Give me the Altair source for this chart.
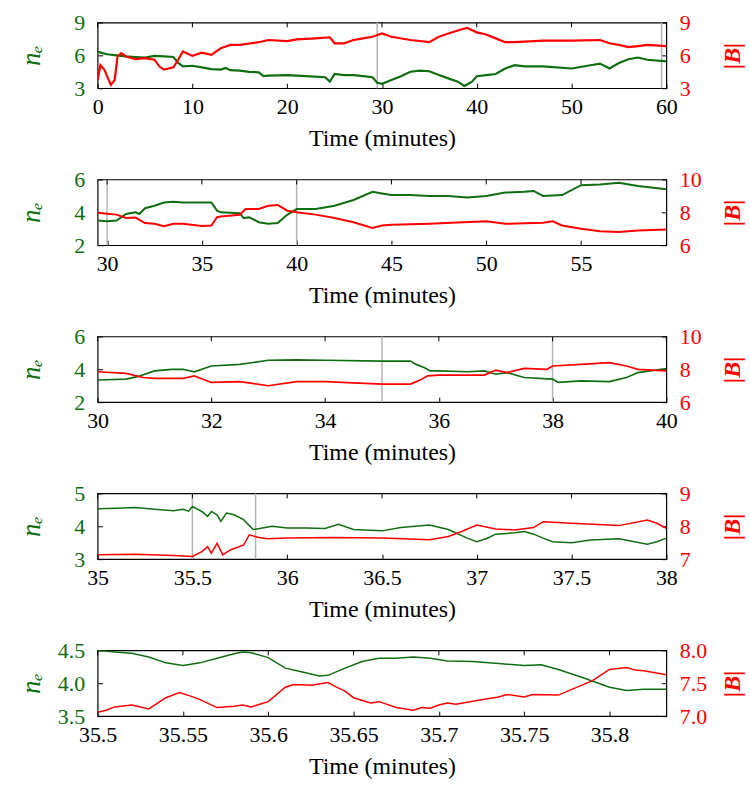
import altair as alt
import pandas as pd

GREEN = "#0f6e0f"
RED = "#ff0000"
GRAY = "#b4b4b4"
FONT = "Liberation Serif"

# ---------------- Panel 1 (0-60 min) ----------------
p1_ne_t = [0, 0.5, 1, 2, 3, 4, 5, 6, 7, 8, 8.5, 9, 10, 11, 12, 13, 13.5, 14, 15, 16, 17, 17.5, 18, 20, 22, 24,
           24.5, 25, 26, 27, 28, 29, 29.5, 30, 31, 32, 33, 34, 35, 36, 37, 38, 38.7, 39.5, 40, 41, 42, 43, 44,
           45, 47, 50, 52, 53, 54, 55, 56, 57, 58, 60]
p1_ne = [6.35, 6.2, 6.1, 6.0, 5.9, 5.85, 5.8, 5.95, 5.9, 5.85, 5.3, 5.0, 5.05, 4.9, 4.75, 4.7, 4.85, 4.65, 4.6, 4.5,
         4.45, 4.1, 4.15, 4.2, 4.1, 4.0, 3.6, 4.3, 4.2, 4.2, 4.1, 4.0, 3.5, 3.4, 3.75, 4.1, 4.5, 4.6, 4.55, 4.2, 3.9,
         3.6, 3.2, 3.6, 4.1, 4.2, 4.3, 4.8, 5.1, 5.0, 5.0, 4.8, 5.1, 5.25, 4.8, 5.3, 5.65, 5.8, 5.6, 5.45]
p1_b_t = [0, 0.3, 0.7, 1, 1.4, 1.8, 2.1, 2.5, 3, 4, 5, 6, 6.5, 7, 8, 8.5, 9, 10, 11, 12, 13, 14, 15, 17, 18, 20, 21,
          23, 24.5, 25, 26, 27, 28, 29, 30, 31, 33, 35, 36, 37, 38.5, 39, 40, 41, 42, 43, 44, 47, 50, 53, 54, 55,
          56, 57, 58, 60]
p1_b = [3.75, 5.1, 4.7, 4.1, 3.3, 3.75, 5.9, 6.2, 5.9, 5.65, 5.75, 5.6, 5.0, 4.7, 4.9, 5.6, 6.35, 5.95, 6.25, 6.05,
        6.65, 6.95, 6.95, 7.2, 7.4, 7.3, 7.45, 7.55, 7.65, 7.1, 7.1, 7.4, 7.55, 7.7, 8.0, 7.7, 7.4, 7.2, 7.7, 8.0,
        8.4, 8.5, 8.1, 7.9, 7.55, 7.2, 7.2, 7.35, 7.35, 7.4, 7.1, 6.95, 6.75, 6.85, 6.95, 6.85]
p1_xticks = [0, 10, 20, 30, 40, 50, 60]
p1_marks = [29.5, 59.5]

# ---------------- Panel 2 (29.5-59.5 min) ----------------
p2_ne_t = [29.5, 30, 30.5, 31, 31.5, 31.7, 32, 32.5, 33, 33.5, 34, 35, 35.5, 35.8, 36, 37, 37.2, 37.5, 38, 38.5, 39,
           39.5, 40, 41, 42, 43, 44, 44.5, 45, 46, 47, 48, 49, 50, 51, 52, 52.5, 53, 54, 55, 56, 57, 58, 59.5]
p2_ne = [3.5, 3.45, 3.5, 3.9, 4.0, 3.9, 4.25, 4.4, 4.6, 4.65, 4.6, 4.6, 4.6, 4.1, 4.0, 3.95, 3.65, 3.7, 3.4, 3.3,
         3.35, 3.85, 4.2, 4.2, 4.4, 4.75, 5.25, 5.15, 5.05, 5.05, 5.0, 5.0, 4.9, 5.0, 5.2, 5.25, 5.3, 5.0, 5.05,
         5.65, 5.7, 5.8, 5.6, 5.4]
p2_b_t = [29.5, 30, 30.5, 31, 31.5, 32, 32.5, 33, 33.5, 34, 35, 35.5, 35.8, 36, 37, 37.3, 38, 38.5, 39, 39.5, 40, 41,
          42, 43, 44, 44.5, 45, 47, 50, 51, 53, 53.5, 54, 55, 56, 57, 58, 59.5]
p2_b = [7.98, 7.92, 7.86, 7.66, 7.68, 7.35, 7.3, 7.15, 7.3, 7.3, 7.17, 7.2, 7.7, 7.75, 7.85, 8.2, 8.2, 8.4, 8.45,
        8.1, 8.0, 7.86, 7.65, 7.4, 7.05, 7.2, 7.25, 7.3, 7.45, 7.3, 7.37, 7.45, 7.2, 7.0, 6.85, 6.8, 6.9, 6.95]
p2_xticks = [30, 35, 40, 45, 50, 55]
p2_marks = [30, 40]

# ---------------- Panel 3 (30-40 min) ----------------
p3_ne_t = [30, 30.5, 30.7, 31, 31.3, 31.5, 31.7, 32, 32.5, 32.7, 33, 33.5, 34, 35, 35.5, 35.6, 35.75, 35.85, 36,
           36.5, 36.8, 37, 37.2, 37.5, 38, 38.1, 38.5, 39, 39.3, 39.5, 40]
p3_ne = [3.35, 3.4, 3.55, 3.9, 4.0, 4.0, 3.85, 4.2, 4.3, 4.4, 4.55, 4.57, 4.55, 4.5, 4.5, 4.3, 4.1, 3.9, 3.9, 3.85,
         3.9, 3.7, 3.8, 3.5, 3.4, 3.2, 3.3, 3.25, 3.5, 3.8, 4.05]
p3_b_t = [30, 30.5, 30.8, 31, 31.5, 31.7, 32, 32.5, 33, 33.5, 34, 35, 35.5, 35.7, 35.8, 36, 36.8, 37, 37.2, 37.5,
          37.9, 38, 38.5, 39, 39.3, 39.5, 40]
p3_b = [7.85, 7.75, 7.5, 7.45, 7.45, 7.6, 7.2, 7.25, 7.0, 7.25, 7.25, 7.1, 7.1, 7.4, 7.6, 7.65, 7.65, 7.95, 7.8,
        8.05, 8.0, 8.2, 8.3, 8.4, 8.2, 8.0, 7.9]
p3_xticks = [30, 32, 34, 36, 38, 40]
p3_marks = [35, 38]

# ---------------- Panel 4 (35-38 min) ----------------
p4_ne_t = [35.0, 35.1, 35.2, 35.3, 35.4, 35.45, 35.48, 35.5, 35.55, 35.58, 35.6, 35.63, 35.65, 35.68, 35.72, 35.77,
           35.82, 35.87, 35.92, 36.0, 36.1, 36.2, 36.27, 36.35, 36.5, 36.6, 36.75, 36.85, 36.95, 37.0, 37.05, 37.1,
           37.2, 37.25, 37.3, 37.35, 37.4, 37.5, 37.6, 37.75, 37.9, 37.95, 38.0]
p4_ne = [4.53, 4.55, 4.57, 4.52, 4.47, 4.52, 4.46, 4.6, 4.45, 4.3, 4.45, 4.35, 4.15, 4.4, 4.35, 4.2, 3.9, 3.95, 4.0,
         3.95, 3.95, 3.93, 4.06, 3.9, 3.86, 3.96, 4.04, 3.9, 3.64, 3.53, 3.62, 3.76, 3.8, 3.84, 3.76, 3.64, 3.53,
         3.5, 3.58, 3.62, 3.45, 3.53, 3.64]
p4_b_t = [35.0, 35.2, 35.4, 35.5, 35.55, 35.58, 35.6, 35.63, 35.66, 35.7, 35.77, 35.8, 35.85, 35.9, 36.0, 36.25,
          36.5, 36.75, 36.85, 36.92, 37.0, 37.1, 37.2, 37.3, 37.35, 37.5, 37.75, 37.9, 37.95, 38.0]
p4_b = [7.13, 7.15, 7.11, 7.08, 7.23, 7.38, 7.18, 7.48, 7.13, 7.28, 7.43, 7.74, 7.66, 7.62, 7.64, 7.66, 7.64, 7.59,
        7.69, 7.84, 8.04, 7.92, 7.89, 7.96, 8.14, 8.09, 8.02, 8.19, 8.09, 7.94]
p4_xticks = [35, 35.5, 36, 36.5, 37, 37.5, 38]
p4_marks = [35.5, 35.8333]

# ---------------- Panel 5 (35.5-35.833 min) ----------------
p5_ne_t = [35.5, 35.51, 35.52, 35.53, 35.54, 35.55, 35.56, 35.57, 35.58, 35.585, 35.59, 35.6, 35.61, 35.62, 35.63,
           35.635, 35.645, 35.655, 35.665, 35.675, 35.685, 35.695, 35.705, 35.72, 35.735, 35.75, 35.76, 35.77,
           35.785, 35.8, 35.81, 35.82, 35.8333]
p5_ne = [4.5, 4.475, 4.455, 4.40, 4.31, 4.27, 4.31, 4.38, 4.45, 4.475, 4.465, 4.39, 4.23, 4.17, 4.11, 4.12, 4.23,
         4.33, 4.38, 4.38, 4.40, 4.38, 4.34, 4.33, 4.30, 4.27, 4.28, 4.21, 4.08, 3.94, 3.89, 3.91, 3.91]
p5_b_t = [35.5, 35.505, 35.51, 35.52, 35.53, 35.54, 35.548, 35.555, 35.56, 35.57, 35.58, 35.585, 35.59, 35.595,
          35.6, 35.61, 35.615, 35.625, 35.635, 35.64, 35.645, 35.65, 35.66, 35.665, 35.675, 35.685, 35.69, 35.695,
          35.7, 35.705, 35.71, 35.725, 35.735, 35.74, 35.75, 35.755, 35.77, 35.78, 35.79, 35.8, 35.81, 35.815,
          35.82, 35.8333]
p5_b = [7.06, 7.09, 7.14, 7.17, 7.11, 7.28, 7.36, 7.30, 7.25, 7.13, 7.15, 7.17, 7.14, 7.18, 7.22, 7.44, 7.48, 7.47,
        7.51, 7.44, 7.38, 7.28, 7.20, 7.22, 7.13, 7.09, 7.13, 7.12, 7.17, 7.20, 7.18, 7.25, 7.29, 7.33, 7.29, 7.33,
        7.32, 7.43, 7.54, 7.71, 7.74, 7.70, 7.69, 7.63]
p5_xticks = [35.5, 35.55, 35.6, 35.65, 35.7, 35.75, 35.8]
p5_marks = []

W, H = 571, 66


def panel(ne_t, ne, b_t, b, xdom, xticks, marks, ldom, lticks, rdom, rticks, yfmt, sw):
    xaxis = alt.Axis(values=xticks, format="~r", title="Time (minutes)", offset=-5, tickSize=5,
                     domain=False, labelPadding=8, titlePadding=10, labelFlush=False, labelOverlap=False,
                     titleFontSize=24)
    X = alt.X("t:Q", scale=alt.Scale(domain=xdom, nice=False, zero=False), axis=xaxis)
    lines_ne = alt.Chart(pd.DataFrame({"t": ne_t, "v": ne})).mark_line(
        color=GREEN, strokeWidth=sw, clip=True).encode(
        x=X,
        y=alt.Y("v:Q", scale=alt.Scale(domain=ldom, nice=False, zero=False),
                axis=alt.Axis(orient="left", values=[float(v) for v in lticks], format=yfmt, title="nₑ",
                              titleColor=GREEN, labelColor=GREEN, offset=-5, tickSize=5, domain=False,
                              labelPadding=13, titleFontStyle="italic", titleFontSize=27, titleX=-71,
                              titleAngle=270, titleBaseline="middle", titleAlign="center", labelFlush=False,
                              labelOverlap=False, labelSeparation=0)))
    lines_b = alt.Chart(pd.DataFrame({"t": b_t, "v": b})).mark_line(
        color=RED, strokeWidth=sw, clip=True).encode(
        x=X,
        y=alt.Y("v:Q", scale=alt.Scale(domain=rdom, nice=False, zero=False),
                axis=alt.Axis(orient="right", values=[float(v) for v in rticks], format=yfmt, title="|B|",
                              titleColor=RED, labelColor=RED, offset=-5, tickSize=5, domain=False,
                              labelPadding=13, titleFontStyle="italic", titleFontWeight="bold", titleFontSize=24,
                              titleX=71, titleAngle=270, titleBaseline="middle", titleAlign="center",
                              labelFlush=False, labelOverlap=False, labelSeparation=0)))
    top_ticks = alt.Chart(pd.DataFrame({"t": xticks})).mark_rule(color="black", strokeWidth=1).encode(
        x=X, y=alt.value(0), y2=alt.value(5))
    layers = []
    if marks:
        layers.append(alt.Chart(pd.DataFrame({"t": marks})).mark_rule(color=GRAY, strokeWidth=1.5).encode(x=X))
    layers += [top_ticks, lines_ne, lines_b]
    return alt.layer(*layers).resolve_scale(y="independent").properties(width=W, height=H)


charts = [
    panel(p1_ne_t, p1_ne, p1_b_t, p1_b, [0, 60], p1_xticks, p1_marks, [3, 9], [3, 6, 9], [3, 9], [3, 6, 9],
          ".0f", 2.2),
    panel(p2_ne_t, p2_ne, p2_b_t, p2_b, [29.5, 59.5], p2_xticks, p2_marks, [2, 6], [2, 4, 6], [6, 10],
          [6, 8, 10], ".0f", 2.0),
    panel(p3_ne_t, p3_ne, p3_b_t, p3_b, [30, 40], p3_xticks, p3_marks, [2, 6], [2, 4, 6], [6, 10], [6, 8, 10],
          ".0f", 1.7),
    panel(p4_ne_t, p4_ne, p4_b_t, p4_b, [35, 38], p4_xticks, p4_marks, [3, 5], [3, 4, 5], [7, 9], [7, 8, 9],
          ".0f", 1.5),
    panel(p5_ne_t, p5_ne, p5_b_t, p5_b, [35.5, 35.8333], p5_xticks, p5_marks, [3.5, 4.5], [3.5, 4.0, 4.5],
          [7.0, 8.0], [7.0, 7.5, 8.0], ".1f", 1.5),
]

chart = alt.vconcat(*charts, spacing=91.6, bounds="flush").properties(
    padding={"left": 17, "top": 9, "right": 5, "bottom": 5}
).configure_view(stroke="black", strokeWidth=1.2).configure_axis(
    grid=False, labelFont=FONT, titleFont=FONT, labelFontSize=22, titleFontSize=22,
    titleFontWeight="normal", labelColor="black", titleColor="black", tickColor="black", tickWidth=1,
    labelOverlap=False
)

chart.save("out.html", embed_options={"renderer": "svg", "actions": False})
